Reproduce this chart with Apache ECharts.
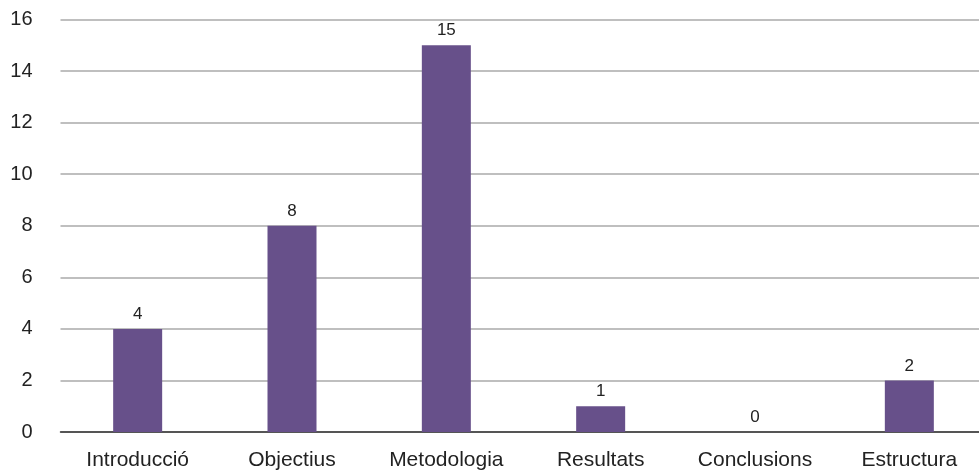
<!DOCTYPE html>
<html>
<head>
<meta charset="utf-8">
<script src="https://cdn.jsdelivr.net/npm/echarts@6/dist/echarts.min.js"></script>
<style>
  html, body { margin: 0; padding: 0; background: #fff; overflow: hidden; }
  #chart { width: 990px; height: 471px; }
</style>
</head>
<body>
<div id="chart"></div>
<script>
const categories = ['Introducció', 'Objectius', 'Metodologia', 'Resultats', 'Conclusions', 'Estructura'];
const counts = [4, 8, 15, 1, 0, 2];

const chart = echarts.init(document.getElementById('chart'), null, { renderer: 'canvas' });
const font = '"Liberation Sans", Arial, Helvetica, sans-serif';

chart.setOption({
  animation: false,
  grid: { left: 60.5, top: 19.5, width: 926, height: 413.5, containLabel: false },
  xAxis: {
    type: 'category',
    data: categories,
    axisTick: { show: false },
    axisLine: { lineStyle: { color: '#333', width: 1.5 } },
    axisLabel: { color: '#222', fontSize: 21, fontFamily: font, margin: 18 }
  },
  yAxis: {
    type: 'value',
    min: 0, max: 16, interval: 2,
    axisLine: { show: false },
    axisTick: { show: false },
    axisLabel: { color: '#222', fontSize: 20, fontFamily: font, margin: 28 },
    splitLine: { lineStyle: { color: '#aaaaaa', width: 1.5 } }
  },
  series: [{
    type: 'bar',
    data: counts,
    barWidth: 49,
    itemStyle: { color: '#67508a' },
    label: { show: true, position: 'top', color: '#222', fontSize: 17, fontFamily: font, distance: 6 }
  }]
});
</script>
</body>
</html>
